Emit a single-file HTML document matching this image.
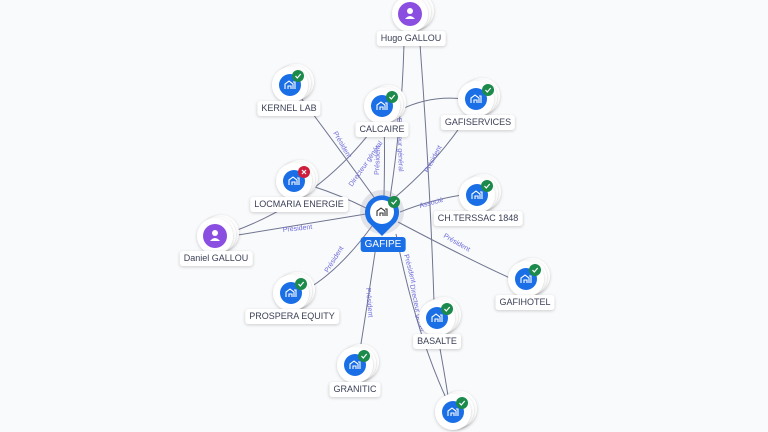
<!DOCTYPE html>
<html><head><meta charset="utf-8"><style>
html,body{margin:0;padding:0;background:#f9fafc;}
body{width:768px;height:432px;overflow:hidden;position:relative;font-family:"Liberation Sans",sans-serif;}
svg{position:absolute;left:0;top:0;}
.lbl{position:absolute;background:#fff;border-radius:3px;box-shadow:0 1px 3px rgba(0,0,0,.18);font-size:9px;color:#3a3f55;padding:2px 4px;white-space:nowrap;transform:translateX(-50%);line-height:11px;}
</style></head><body>
<svg width="768" height="432" viewBox="0 0 768 432">
<defs>
<filter id="sh" x="-50%" y="-50%" width="200%" height="200%"><feDropShadow dx="0" dy="1" stdDeviation="1.5" flood-color="#000" flood-opacity=".2"/></filter>
<g id="co">
<circle cx="6" cy="-3" r="18" fill="#fff" filter="url(#sh)"/>
<circle cx="3" cy="-1.5" r="18" fill="#fff" filter="url(#sh)"/>
<circle cx="0" cy="0" r="18" fill="#fff" filter="url(#sh)"/>
<circle cx="0" cy="0" r="11" fill="#1a6ee6"/>
<path d="M-5 4 V-1 L-1 -4 L3 -1 V4 M-2 4 V1 H1 V4 M3 -3 H5 V4" stroke="#fff" stroke-width="1.1" fill="none"/>
</g>
<g id="ok"><circle r="6" fill="#1c8a4b"/><path d="M-2.5 0 L-0.7 2 L2.7 -2" stroke="#fff" stroke-width="1.2" fill="none"/></g>
<g id="ko"><circle r="6" fill="#d01d3c"/><path d="M-2 -2 L2 2 M2 -2 L-2 2" stroke="#fff" stroke-width="1.2"/></g>
<g id="pe">
<circle cx="6" cy="-3" r="18" fill="#fff" filter="url(#sh)"/>
<circle cx="3" cy="-1.5" r="18" fill="#fff" filter="url(#sh)"/>
<circle cx="0" cy="0" r="18" fill="#fff" filter="url(#sh)"/>
<circle r="12" fill="#8a4fe0"/>
<circle cx="0" cy="-3" r="3" fill="#fff"/><path d="M-5 5 Q0 -1 5 5 Z" fill="#fff"/>
</g>
</defs>
<g stroke="#70758f" stroke-width="1" fill="none">
<path d="M376 200 Q340 150 298 94"/>
<path d="M384 196 Q385 150 384 122"/>
<path d="M390 198 Q402 120 404 44"/>
<path d="M420 44 Q430 180 434 302"/>
<path d="M400 110 Q430 95 464 99"/>
<path d="M392 200 Q440 160 470 112"/>
<path d="M366 208 Q340 195 312 186"/>
<path d="M366 214 Q300 225 232 236"/>
<path d="M232 232 Q320 200 375 126"/>
<path d="M400 212 Q430 200 462 195"/>
<path d="M398 222 Q470 260 510 278"/>
<path d="M372 226 Q340 270 306 290"/>
<path d="M376 246 Q368 300 360 350"/>
<path d="M396 234 Q415 330 446 398"/>
<path d="M438 338 Q444 370 448 396"/>
</g>
<g font-size="7" fill="#6e6cd8" font-family="Liberation Sans,sans-serif">
<text transform="translate(333,133) rotate(60)">Président</text>
<text transform="translate(352,187) rotate(-55)">Directeur général</text>
<text transform="translate(379,175) rotate(-88)">Président</text>
<text transform="translate(397,118) rotate(88)">Directeur général</text>
<text transform="translate(428,173) rotate(-62)">Président</text>
<text transform="translate(420,208) rotate(-15)">Associé</text>
<text transform="translate(283,232) rotate(-6)">Président</text>
<text transform="translate(443,237) rotate(30)">Président</text>
<text transform="translate(328,273) rotate(-58)">Président</text>
<text transform="translate(366,288) rotate(85)">Président</text>
<text transform="translate(404,255) rotate(75)">Président</text>
<text transform="translate(410,285) rotate(78)">Directeur génér</text>
</g>
<use href="#pe" x="410" y="14"/>
<use href="#co" x="290" y="85"/><use href="#ok" x="298" y="76"/>
<use href="#co" x="382" y="106"/><use href="#ok" x="392" y="97"/>
<use href="#co" x="476" y="99"/><use href="#ok" x="488" y="90"/>
<use href="#co" x="294" y="181"/><use href="#ko" x="304" y="172"/>
<use href="#pe" x="215" y="236"/>
<use href="#co" x="477" y="195"/><use href="#ok" x="487" y="186"/>
<use href="#co" x="526" y="279"/><use href="#ok" x="535" y="270"/>
<use href="#co" x="291" y="293"/><use href="#ok" x="301" y="284"/>
<use href="#co" x="437" y="318"/><use href="#ok" x="447" y="309"/>
<use href="#co" x="355" y="365"/><use href="#ok" x="364" y="356"/>
<use href="#co" x="453" y="412"/><use href="#ok" x="462" y="403"/>
<circle cx="382" cy="212" r="22" fill="#9aa0b0" opacity=".25"/>
<path d="M382 236 L368 222 A17 17 0 1 1 396 222 Z" fill="#1a6ee6"/>
<circle cx="382" cy="212" r="12" fill="#fff"/>
<path d="M377 216 V211 L381 208 L385 211 V216 M380 216 V213 H383 V216 M385 209 H387 V216" stroke="#333" stroke-width="1.1" fill="none"/>
<use href="#ok" x="394" y="202"/>
</svg>
<div class="lbl" style="left:411px;top:31px">Hugo GALLOU</div>
<div class="lbl" style="left:289px;top:101px">KERNEL LAB</div>
<div class="lbl" style="left:382px;top:122px">CALCAIRE</div>
<div class="lbl" style="left:478px;top:115px">GAFISERVICES</div>
<div class="lbl" style="left:299px;top:197px">LOCMARIA ENERGIE</div>
<div class="lbl" style="left:216px;top:251px">Daniel GALLOU</div>
<div class="lbl" style="left:478px;top:211px">CH.TERSSAC 1848</div>
<div class="lbl" style="left:525px;top:295px">GAFIHOTEL</div>
<div class="lbl" style="left:292px;top:309px">PROSPERA EQUITY</div>
<div class="lbl" style="left:437px;top:334px">BASALTE</div>
<div class="lbl" style="left:355px;top:382px">GRANITIC</div>
<div class="lbl" style="left:383px;top:237px;background:#1a6ee6;color:#fff;font-size:10px;box-shadow:none">GAFIPE</div>
</body></html>
